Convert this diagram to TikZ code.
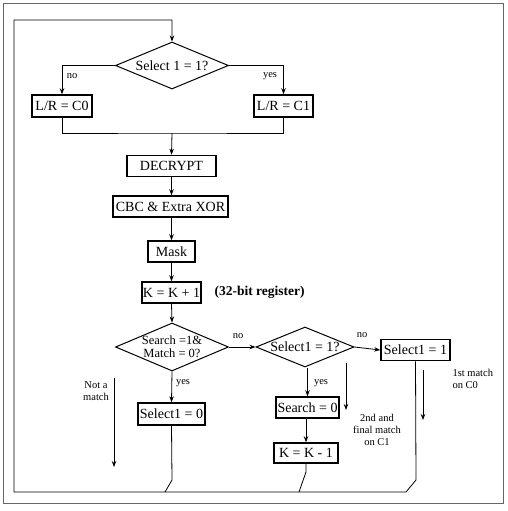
\documentclass[tikz,border=0pt]{standalone}
\usepackage{fontspec}
\setmainfont{Liberation Serif}
\usetikzlibrary{shapes.geometric,arrows.meta}
\begin{document}
\begin{tikzpicture}[x=1pt,y=-1pt,
  box/.style={draw,line width=1.5pt,rectangle,inner sep=0pt,font=\fontsize{14}{15}\selectfont},
  dia/.style={draw,line width=1pt,diamond,inner sep=0pt},
  dtext/.style={font=\fontsize{14}{15}\selectfont,align=center},
  conn/.style={line width=0.8pt},
  arr/.style={line width=0.8pt,-{Stealth[length=6pt,width=4.5pt]}},
  lab/.style={font=\fontsize{10.5}{12}\selectfont},
  note/.style={font=\fontsize{10.5}{12}\selectfont,align=center}]
\useasboundingbox (0,0) rectangle (508,511);
% outer frame
\draw[black!60,line width=1pt] (3,4) rectangle (503,503);
% diamonds
\node[dia,minimum width=113pt,minimum height=47pt] (d1) at (172,65.5) {};
\node[dtext] (d1t) at (d1.center) {Select 1 = 1?};
\node[dia,minimum width=113pt,minimum height=48pt] (d2) at (172,347) {};
\node[dtext,font=\fontsize{12.5}{13}\selectfont] (d2t) at (d2.center) {Search =1\&\\Match = 0?};
\node[dia,minimum width=98pt,minimum height=40pt] (d3) at (305,347) {};
\node[dtext] (d3t) at (d3.center) {Select1 = 1?};
% boxes
\node[box,minimum width=60pt,minimum height=22pt] (c0) at (62,106) {L/R = C0};
\node[box,minimum width=59pt,minimum height=22pt] (c1) at (283.5,106) {L/R = C1};
\node[box,minimum width=89pt,minimum height=21pt] (dec) at (171.5,166) {DECRYPT};
\node[box,minimum width=115pt,minimum height=21pt] (cbc) at (170.5,206.5) {CBC \& Extra XOR};
\node[box,minimum width=47pt,minimum height=21pt] (mask) at (171.5,251.5) {Mask};
\node[box,minimum width=59pt,minimum height=21pt] (kp) at (171.5,292.5) {K = K + 1};
\node[font=\bfseries\fontsize{13.5}{15}\selectfont,anchor=west] (reg) at (211,292.5) {(32-bit register)};
\node[box,minimum width=67pt,minimum height=22pt] (s0) at (171.5,414) {Select1 = 0};
\node[box,minimum width=69pt,minimum height=21pt] (s1) at (415.5,350) {Select1 = 1};
\node[box,minimum width=63pt,minimum height=21pt] (sr0) at (307.5,407.5) {Search = 0};
\node[box,minimum width=64pt,minimum height=20pt] (km) at (306,453) {K = K - 1};
% top branches
\draw[arr] (d1.west) -| (c0.north);
\draw[arr] (d1.east) -| (c1.north);
\node[lab] (no1) at (72,76) {no};
\node[lab] (yes1) at (270,76) {yes};
\coordinate (m1) at (172,133);
\draw[conn] (c0.south) |- (m1) -| (c1.south);
\draw[arr] (m1) -- (dec.north);
\draw[arr] (dec.south) -- (cbc.north -| dec.south);
\draw[arr] (cbc.south -| mask.north) -- (mask.north);
\draw[arr] (mask.south) -- (kp.north);
\draw[arr] (kp.south) -- (d2.north);
% lower part
\draw[arr] (d2.east) -- (d3.west);
\node[lab] (no2) at (238,336) {no};
\draw[arr] (d2.south) -- (s0.north);
\node[lab] (yes2) at (183,383) {yes};
\draw[arr] (d3.east) -- (s1.west);
\node[lab] (no3) at (362,335) {no};
\draw[arr] (d3.south -| sr0.north) -- (sr0.north);
\node[lab] (yes3) at (321,383) {yes};
\draw[arr] (sr0.south -| km.north) -- (km.north);
% return loop
\coordinate (lb) at (14,492);
\coordinate (lt) at (14,20);
\draw[arr] (s1.south) -- (416,480) -- (406,492) -- (lb) -- (lt) -| (d1.north);
\draw[conn] (s0.south) -- (172,480) -- (165,492);
\draw[conn] (km.south) -- (306,472) -- (299,492);
% annotations
\coordinate (a1s) at (114,378); \coordinate (a1e) at (114,467);
\draw[arr] (a1s) -- (a1e);
\node[note] (n1) at (96,391) {Not a\\match};
\coordinate (a2s) at (346,363); \coordinate (a2e) at (346,410);
\draw[arr] (a2s) -- (a2e);
\node[note] (n2) at (377,430) {2nd and\\final match\\on C1};
\coordinate (a3s) at (423,370); \coordinate (a3e) at (423,420);
\draw[arr] (a3s) -- (a3e);
\node[note,align=left,anchor=north west] (n3) at (449,366) {1st match\\on C0};
\end{tikzpicture}
\end{document}
